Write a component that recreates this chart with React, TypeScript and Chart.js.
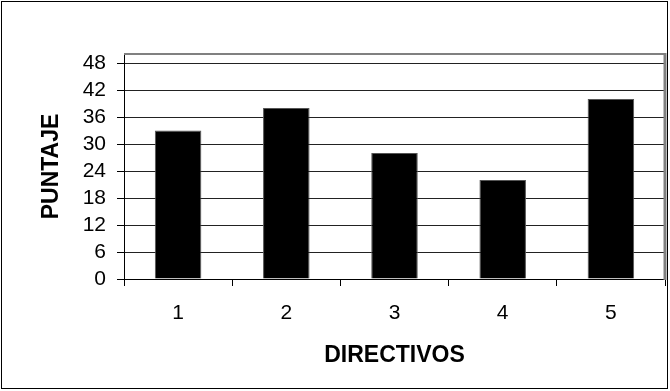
import React, { useEffect, useRef } from "react";
import { Chart, registerables } from "chart.js";

Chart.register(...registerables);

// Puntaje obtenido por cada directivo
const directivos: string[] = ["1", "2", "3", "4", "5"];
const puntajes: number[] = [33, 38, 28, 22, 40];

// Escala del eje vertical
const yMin = 0;
const yMax = 50;
const yStep = 6;

const FONT = "'Liberation Sans', Arial, sans-serif";

// Marco exterior y bordes grises del área de trazado
const framePlugin = {
  id: "frame",
  afterDraw(chart: any) {
    const { ctx, chartArea } = chart;
    ctx.save();
    ctx.strokeStyle = "#000000";
    ctx.lineWidth = 1;
    ctx.strokeRect(1.5, 1.5, 666, 387);
    ctx.strokeStyle = "#808080";
    ctx.lineWidth = 2;
    ctx.beginPath();
    ctx.moveTo(chartArea.left, chartArea.top);
    ctx.lineTo(chartArea.right, chartArea.top);
    ctx.stroke();
    ctx.lineWidth = 3;
    ctx.beginPath();
    ctx.moveTo(chartArea.right, chartArea.top - 1);
    ctx.lineTo(chartArea.right, chartArea.bottom + 1);
    ctx.stroke();
    ctx.restore();
  },
};

export default function App() {
  const canvasRef = useRef<HTMLCanvasElement | null>(null);

  useEffect(() => {
    const canvas = canvasRef.current;
    if (!canvas) return;
    const chart = new Chart(canvas, {
      type: "bar",
      data: {
        labels: directivos,
        datasets: [
          {
            label: "PUNTAJE",
            data: puntajes,
            backgroundColor: "#000000",
            borderColor: "#555555",
            borderWidth: 1,
            barPercentage: 0.43,
            categoryPercentage: 1,
          },
        ],
      },
      options: {
        responsive: false,
        animation: false,
        layout: { padding: { top: 54, right: 5, left: 0, bottom: 0 } },
        plugins: {
          legend: { display: false },
          tooltip: { enabled: false },
        },
        scales: {
          x: {
            afterFit: (scale: any) => {
              scale.height = 112;
            },
            grid: {
              display: true,
              drawOnChartArea: false,
              drawTicks: true,
              tickLength: 7,
              tickColor: "#000000",
              offset: true,
            },
            border: { display: true, color: "#000000", width: 1 },
            ticks: {
              color: "#000000",
              padding: 15,
              autoSkip: false,
              font: { family: FONT, size: 21 },
            },
            title: {
              display: true,
              text: "DIRECTIVOS",
              color: "#000000",
              font: { family: FONT, size: 23, weight: "bold" },
              padding: { top: 0, bottom: 22 },
            },
          },
          y: {
            min: yMin,
            max: yMax,
            afterFit: (scale: any) => {
              scale.width = 124;
            },
            grid: {
              color: "#222222",
              lineWidth: 1,
              drawTicks: true,
              tickLength: 7,
              tickColor: "#000000",
            },
            border: { display: true, color: "#000000", width: 1 },
            ticks: {
              stepSize: yStep,
              includeBounds: false,
              autoSkip: false,
              color: "#000000",
              padding: 11,
              font: { family: FONT, size: 21, lineHeight: 1 },
            },
            title: {
              display: true,
              text: "PUNTAJE",
              color: "#000000",
              font: { family: FONT, size: 23, weight: "bold" },
              padding: { top: 38, bottom: 0 },
            },
          },
        },
      },
      plugins: [framePlugin],
    } as any);
    return () => chart.destroy();
  }, []);

  return (
    <div style={{ position: "absolute", left: 0, top: 0, width: 670, height: 391, background: "#ffffff" }}>
      <canvas ref={canvasRef} width={670} height={391} style={{ display: "block" }} />
    </div>
  );
}
